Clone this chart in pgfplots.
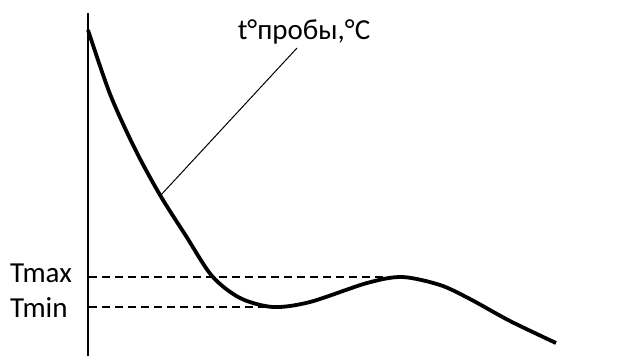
\documentclass[border=0pt]{standalone}
\usepackage{pgfplots}
\pgfplotsset{compat=1.18}
\usepackage{fontspec}
\setmainfont{Carlito}
\begin{document}
\begin{tikzpicture}
\begin{axis}[
  scale only axis, width=632pt, height=356pt,
  xmin=0, xmax=632, ymin=0, ymax=356,
  hide axis, clip=false,
]
\path (axis cs:0,0) rectangle (axis cs:632,356);
% vertical axis line
\addplot[black, line width=1.8pt] coordinates {(88,0) (88,343)};
% dashed reference lines
\addplot[black, line width=1.2pt, dash pattern=on 8pt off 5pt] coordinates {(89,79) (400,79)};
\addplot[black, line width=1.2pt, dash pattern=on 8pt off 5pt] coordinates {(89,49) (268,49)};
% annotation leader
\addplot[black, line width=1pt] coordinates {(160,160) (297,308)};
% curve
\addplot[black, line width=3.8pt, smooth, tension=0.5] coordinates {
(88,326) (110,262) (135,207) (160,161) (186,120) (212,80) (240,58) (273,49)
(310,54) (367,73) (402,79) (440,71) (470,57) (510,35) (556,13)};
\node[anchor=base, inner sep=0pt, font=\fontsize{29}{34}\selectfont] at (axis cs:304,316) {t°пробы,°C};
\node[anchor=base west, inner sep=0pt, font=\fontsize{29}{34}\selectfont] at (axis cs:10,74) {Tmax};
\node[anchor=base west, inner sep=0pt, font=\fontsize{29}{34}\selectfont] at (axis cs:10,39) {Tmin};
\end{axis}
\end{tikzpicture}
\end{document}
